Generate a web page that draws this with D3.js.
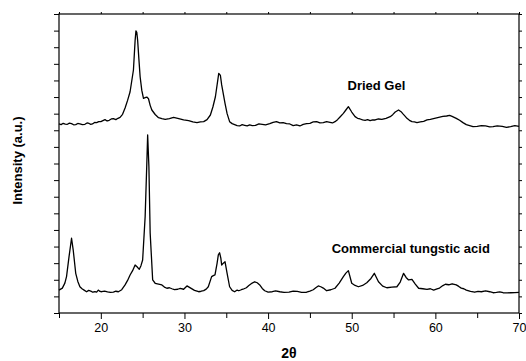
<!DOCTYPE html>
<html>
<head>
<meta charset="utf-8">
<script src="https://cdn.jsdelivr.net/npm/d3@7"></script>
<style>
  body { margin: 0; background: #fff; }
  svg { display: block; font-family: "Liberation Sans", Arial, sans-serif; }
</style>
</head>
<body>
<svg id="chart"></svg>
<script>
// [2theta, intensity (a.u.)]
const gelPattern = [
  [15.0, 1138], [15.25, 1134], [15.5, 1142], [15.75, 1137], [16.0, 1136], [16.25, 1143], [16.5, 1140], [16.75, 1133],
  [17.0, 1134], [17.25, 1141], [17.5, 1139], [17.8, 1134], [18.1, 1136], [18.35, 1144], [18.6, 1141], [18.8, 1136],
  [19.0, 1138], [19.25, 1147], [19.5, 1146], [19.75, 1152], [20.0, 1152], [20.25, 1158], [20.5, 1164], [20.75, 1156],
  [21.0, 1160], [21.25, 1168], [21.5, 1170], [21.8, 1164], [22.05, 1172], [22.3, 1178], [22.6, 1196], [22.9, 1234],
  [23.2, 1280], [23.5, 1332], [23.9, 1463], [24.1, 1640], [24.2, 1699], [24.3, 1690], [24.4, 1643], [24.55, 1530],
  [24.7, 1422], [24.9, 1340], [25.1, 1292], [25.3, 1296], [25.5, 1300], [25.7, 1290], [25.9, 1250], [26.1, 1222],
  [26.5, 1195], [26.9, 1176], [27.3, 1170], [27.7, 1166], [28.2, 1170], [28.7, 1178], [29.2, 1172], [29.9, 1162],
  [30.5, 1158], [31.0, 1150], [31.5, 1146], [31.9, 1150], [32.3, 1152], [32.7, 1164], [33.1, 1192], [33.4, 1240],
  [33.7, 1302], [34.1, 1443], [34.3, 1430], [34.45, 1373], [34.85, 1262], [35.1, 1200], [35.4, 1152], [35.7, 1140],
  [36.0, 1134], [36.3, 1128], [36.6, 1126], [36.9, 1134], [37.2, 1130], [37.5, 1126], [37.8, 1132], [38.1, 1128],
  [38.5, 1130], [38.9, 1138], [39.3, 1136], [39.7, 1132], [40.2, 1140], [40.6, 1148], [41.0, 1152], [41.4, 1144],
  [41.8, 1146], [42.2, 1140], [42.6, 1138], [43.0, 1128], [43.4, 1132], [43.8, 1126], [44.2, 1136], [44.6, 1140],
  [45.0, 1142], [45.4, 1150], [45.8, 1152], [46.2, 1144], [46.6, 1146], [47.0, 1152], [47.4, 1148], [47.7, 1144],
  [48.0, 1152], [48.3, 1164], [48.6, 1180], [49.0, 1202], [49.3, 1222], [49.6, 1242], [50.0, 1210], [50.4, 1182],
  [50.7, 1172], [51.0, 1168], [51.3, 1162], [51.6, 1160], [51.9, 1164], [52.2, 1158], [52.5, 1163], [52.8, 1162],
  [53.2, 1168], [53.6, 1166], [54.1, 1172], [54.6, 1182], [54.9, 1194], [55.2, 1210], [55.6, 1222], [55.9, 1212],
  [56.1, 1200], [56.4, 1184], [56.6, 1172], [56.9, 1160], [57.2, 1152], [57.5, 1150], [57.8, 1146], [58.2, 1150],
  [58.6, 1154], [59.0, 1162], [59.4, 1166], [59.9, 1172], [60.4, 1178], [60.9, 1184], [61.35, 1186], [61.7, 1190],
  [62.0, 1184], [62.5, 1172], [62.9, 1160], [63.3, 1146], [63.7, 1134], [64.1, 1128], [64.5, 1122], [65.0, 1124],
  [65.5, 1128], [66.0, 1126], [66.5, 1120], [66.9, 1122], [67.4, 1127], [68.0, 1124], [68.5, 1118], [69.0, 1122],
  [69.5, 1128], [70.0, 1124]
];

const acidPattern = [
  [15.0, 138], [15.4, 150], [15.7, 180], [15.9, 219], [16.2, 339], [16.5, 450], [16.7, 379], [17.0, 239],
  [17.25, 190], [17.5, 158], [17.75, 146], [18.0, 138], [18.3, 128], [18.55, 136], [18.8, 132], [19.05, 125],
  [19.3, 129], [19.5, 126], [19.7, 138], [19.9, 130], [20.1, 128], [20.45, 132], [20.8, 127], [21.15, 124],
  [21.5, 126], [21.8, 131], [22.1, 128], [22.5, 140], [22.9, 169], [23.2, 196], [23.5, 229], [23.8, 255],
  [24.1, 289], [24.3, 280], [24.6, 263], [24.8, 285], [25.0, 319], [25.3, 580], [25.5, 900], [25.6, 1072],
  [25.75, 880], [25.9, 482], [26.2, 199], [26.5, 179], [26.9, 174], [27.3, 169], [27.6, 156], [27.9, 149],
  [28.2, 152], [28.5, 146], [28.8, 141], [29.2, 143], [29.5, 148], [29.9, 143], [30.3, 163], [30.8, 148],
  [31.2, 136], [31.7, 128], [32.0, 131], [32.3, 135], [32.6, 144], [32.85, 158], [33.25, 219], [33.45, 225],
  [33.65, 229], [33.9, 299], [34.05, 350], [34.2, 363], [34.35, 330], [34.45, 289], [34.65, 300], [34.85, 309],
  [35.1, 239], [35.4, 158], [35.7, 136], [36.0, 128], [36.3, 138], [36.5, 134], [36.8, 140], [37.0, 143],
  [37.4, 152], [37.7, 165], [38.1, 180], [38.4, 188], [38.7, 182], [39.0, 169], [39.3, 148], [39.6, 134],
  [40.0, 126], [40.5, 128], [40.9, 133], [41.4, 128], [41.9, 124], [42.5, 126], [43.0, 132], [43.5, 130],
  [44.0, 124], [44.6, 125], [45.0, 132], [45.4, 140], [45.7, 152], [46.0, 163], [46.3, 158], [46.6, 150],
  [47.0, 134], [47.5, 140], [48.0, 149], [48.5, 180], [49.0, 219], [49.3, 240], [49.6, 255], [50.0, 179],
  [50.4, 166], [50.8, 158], [51.3, 166], [51.8, 182], [52.3, 208], [52.7, 239], [53.2, 188], [53.7, 162],
  [54.2, 152], [54.8, 156], [55.4, 158], [55.8, 186], [56.2, 239], [56.5, 214], [56.8, 199], [57.2, 203],
  [57.6, 174], [58.0, 149], [58.5, 146], [59.0, 142], [59.4, 146], [59.8, 138], [60.2, 145], [60.5, 150],
  [60.9, 165], [61.2, 173], [61.6, 170], [62.0, 176], [62.5, 169], [62.8, 160], [63.1, 150], [63.4, 146],
  [63.7, 138], [64.2, 130], [64.7, 125], [65.1, 130], [65.5, 128], [66.0, 133], [66.5, 128], [66.9, 122],
  [67.3, 124], [67.7, 127], [68.1, 122], [68.6, 121], [69.0, 122], [69.5, 123], [70.0, 124]
];

const xMajor = [20, 30, 40, 50, 60, 70];
const xMinor = [15, 25, 35, 45, 55, 65];
const seriesLabels = ["Dried Gel", "Commercial tungstic acid"];

const width = 526, height = 361;
const margin = { top: 14, right: 7, bottom: 48, left: 59 };

const svg = d3.select('#chart')
  .attr('width', width)
  .attr('height', height);

const x = d3.scaleLinear().domain([15, 70]).range([margin.left, width - margin.right]);
const y = d3.scaleLinear().domain([0, 1800]).range([height - margin.bottom, margin.top]);

const yTicks = d3.range(0, 1801, 100);

// bottom axis, labelled majors + minors
svg.append('g')
  .attr('transform', `translate(0,${y(0)})`)
  .call(d3.axisBottom(x).tickValues(xMajor).tickSize(6).tickSizeOuter(0).tickPadding(4))
  .call(g => g.select('.domain').remove())
  .call(g => g.selectAll('text').attr('font-size', 12.5).attr('font-family', '"Liberation Sans", Arial, sans-serif').attr('fill', '#000'));
svg.append('g')
  .attr('transform', `translate(0,${y(0)})`)
  .call(d3.axisBottom(x).tickValues(xMinor).tickSize(5).tickFormat(''))
  .call(g => g.select('.domain').remove());

// top axis, ticks only
svg.append('g')
  .attr('transform', `translate(0,${y(1800)})`)
  .call(d3.axisTop(x).tickValues(xMinor.concat(xMajor)).tickSize(2).tickFormat(''))
  .call(g => g.select('.domain').remove());

// left and right axes, no labels
svg.append('g')
  .attr('transform', `translate(${x(15)},0)`)
  .call(d3.axisLeft(y).tickValues(yTicks).tickSize(5).tickFormat(''))
  .call(g => g.select('.domain').remove());
svg.append('g')
  .attr('transform', `translate(${x(70)},0)`)
  .call(d3.axisRight(y).tickValues(yTicks).tickSize(3).tickFormat(''))
  .call(g => g.select('.domain').remove());

svg.selectAll('.tick line').attr('stroke', '#000').attr('stroke-width', 1);

// frame
svg.append('rect')
  .attr('x', x(15)).attr('y', y(1800))
  .attr('width', x(70) - x(15)).attr('height', y(0) - y(1800))
  .attr('fill', 'none').attr('stroke', '#000').attr('stroke-width', 1.2);

const line = d3.line()
  .x(d => x(d[0]))
  .y(d => y(d[1]));

svg.selectAll('path.curve')
  .data([gelPattern, acidPattern])
  .enter()
  .append('path')
  .attr('class', 'curve')
  .attr('d', line)
  .attr('fill', 'none')
  .attr('stroke', '#000')
  .attr('stroke-width', 1.3)
  .attr('stroke-linejoin', 'round');

// series labels
svg.append('text')
  .attr('x', x(49.5)).attr('y', y(1342))
  .attr('font-size', 13).attr('font-weight', 'bold')
  .text(seriesLabels[0]);
svg.append('text')
  .attr('x', x(47.6)).attr('y', y(363))
  .attr('font-size', 13).attr('font-weight', 'bold')
  .text(seriesLabels[1]);

// axis titles
svg.append('text')
  .attr('transform', `translate(22,${(y(0) + y(1800)) / 2 - 3}) rotate(-90)`)
  .attr('text-anchor', 'middle')
  .attr('font-size', 13).attr('font-weight', 'bold')
  .text('Intensity (a.u.)');
svg.append('text')
  .attr('x', (x(15) + x(70)) / 2).attr('y', 358)
  .attr('text-anchor', 'middle')
  .attr('font-size', 14).attr('font-weight', 'bold')
  .text('2θ');
</script>
</body>
</html>
